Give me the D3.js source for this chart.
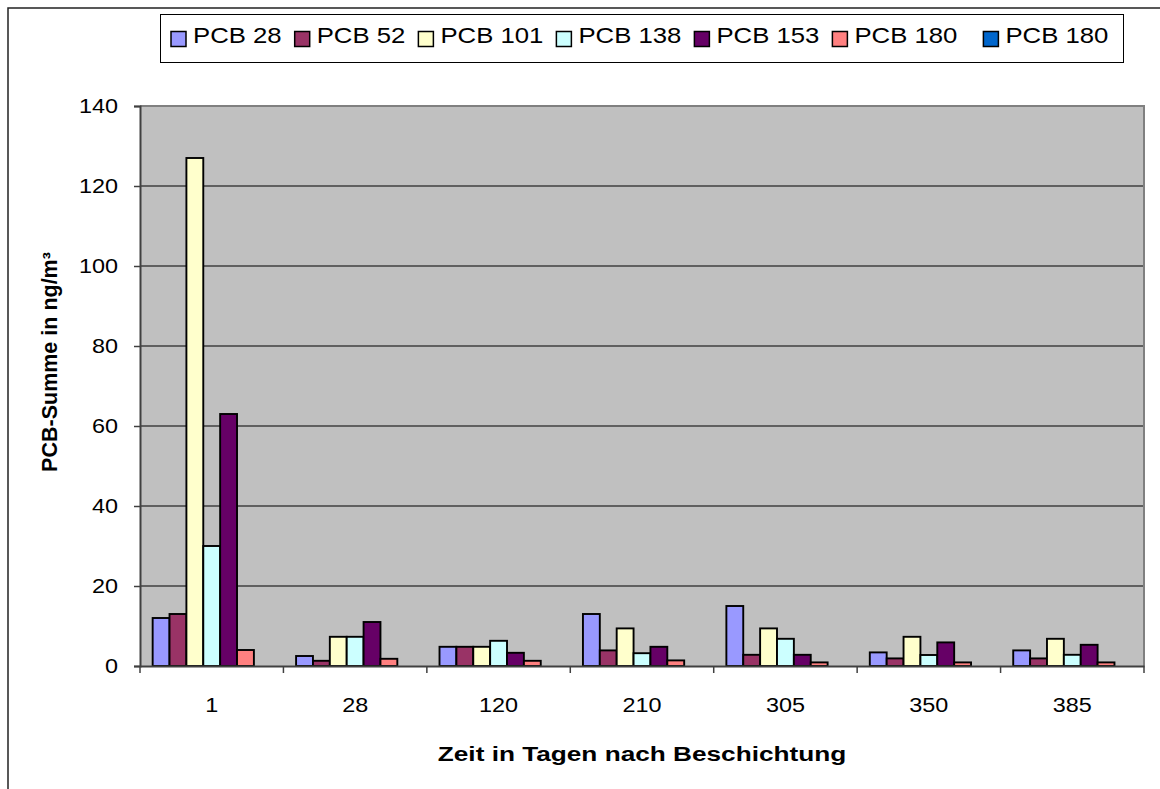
<!DOCTYPE html>
<html>
<head>
<meta charset="utf-8">
<script src="https://cdn.jsdelivr.net/npm/d3@7"></script>
<style>
  html, body { margin: 0; padding: 0; background: #fff; }
  svg { display: block; font-family: "Liberation Sans", Arial, sans-serif; }
</style>
</head>
<body>
<svg id="chart" width="1160" height="789"></svg>
<script>
// Days after coating (x categories)
const categories = ["1", "28", "120", "210", "305", "350", "385"];

// Congener names shown in the legend
const seriesNames = ["PCB 28", "PCB 52", "PCB 101", "PCB 138", "PCB 153", "PCB 180", "PCB 180"];

// Measured concentrations in ng/m³, one array per congener
const pcb28  = [12, 2.5, 4.8, 13, 15, 3.4, 3.9];
const pcb52  = [13, 1.3, 4.8, 3.9, 2.8, 1.9, 1.9];
const pcb101 = [127, 7.3, 4.8, 9.4, 9.4, 7.3, 6.8];
const pcb138 = [30, 7.3, 6.3, 3.2, 6.8, 2.75, 2.8];
const pcb153 = [63, 11, 3.3, 4.8, 2.8, 5.9, 5.3];
const pcb180 = [4, 1.8, 1.3, 1.4, 0.9, 0.9, 0.9];
const pcb180b = [null, null, null, null, null, null, null];

const seriesValues = [pcb28, pcb52, pcb101, pcb138, pcb153, pcb180, pcb180b];
const seriesColors = ["#9999FF", "#993366", "#FFFFCC", "#CCFFFF", "#660066", "#FF8080", "#0066CC"];

// Y axis ticks
const yTicks = [0, 20, 40, 60, 80, 100, 120, 140];

const svg = d3.select("#chart");
const SX = 1.2; // horizontal glyph stretch used for the axis text

const plot = { left: 140, right: 1144, top: 106, bottom: 666 };

// Text drawn with a horizontal stretch around its anchor point
function stretchedText(parent, x, y, str, o) {
  const g = parent.append("g")
    .attr("transform", `translate(${x},${y}) scale(${o.sx || SX},1)`);
  return g.append("text")
    .attr("x", 0).attr("y", 0)
    .attr("text-anchor", o.anchor || "start")
    .attr("font-size", o.size)
    .attr("font-weight", o.weight || "normal")
    .attr("fill", "#000")
    .text(str);
}

// Outer chart frame
svg.append("rect")
  .attr("x", 8).attr("y", 8).attr("width", 1200).attr("height", 900)
  .attr("fill", "#fff").attr("stroke", "#222").attr("stroke-width", 1.5);

// Scales
const x0 = d3.scaleBand().domain(categories).range([plot.left, plot.right]).paddingInner(0).paddingOuter(0);
const x1 = d3.scaleBand().domain(d3.range(seriesNames.length)).range([0, x0.bandwidth()])
  .paddingInner(0).paddingOuter(0.75);
const y = d3.scaleLinear().domain([0, 140]).range([plot.bottom, plot.top]);

// Plot background
svg.append("rect")
  .attr("x", plot.left).attr("y", plot.top)
  .attr("width", plot.right - plot.left).attr("height", plot.bottom - plot.top)
  .attr("fill", "#C0C0C0");

// Horizontal gridlines
svg.append("g").selectAll("line")
  .data(yTicks.filter(t => t > 0 && t < 140))
  .join("line")
  .attr("x1", plot.left).attr("x2", plot.right)
  .attr("y1", d => y(d)).attr("y2", d => y(d))
  .attr("stroke", "#000").attr("stroke-width", 1);

// Plot border (top and right)
svg.append("path")
  .attr("d", `M${plot.left},${plot.top}H${plot.right}V${plot.bottom}`)
  .attr("fill", "none").attr("stroke", "#808080").attr("stroke-width", 2);

// Bars
const groups = svg.append("g").selectAll("g")
  .data(categories)
  .join("g")
  .attr("transform", d => `translate(${x0(d)},0)`);

groups.selectAll("rect")
  .data((d, ci) => seriesValues.map((vals, si) => ({ si, v: vals[ci] })).filter(e => e.v != null))
  .join("rect")
  .attr("x", d => x1(d.si))
  .attr("width", x1.bandwidth())
  .attr("y", d => y(d.v))
  .attr("height", d => y(0) - y(d.v))
  .attr("fill", d => seriesColors[d.si])
  .attr("stroke", "#000")
  .attr("stroke-width", 1.9);

// Y axis
const yAxis = svg.append("g")
  .attr("transform", `translate(${plot.left},0)`)
  .call(d3.axisLeft(y).tickValues(yTicks).tickSize(6).tickFormat(""));
yAxis.select(".domain").attr("stroke", "#404040").attr("stroke-width", 2);
yAxis.selectAll(".tick line").attr("stroke", "#404040").attr("stroke-width", 1.5);

yTicks.forEach(t => {
  stretchedText(svg, 118, y(t) + 6.8, String(t), { size: 19.5, anchor: "end" });
});

// X axis
const xAxis = svg.append("g")
  .attr("transform", `translate(0,${plot.bottom})`)
  .call(d3.axisBottom(x0).tickSize(0).tickFormat(""));
xAxis.select(".domain").attr("stroke", "#404040").attr("stroke-width", 2);

// Category boundary ticks
const bounds = categories.map(c => x0(c)).concat([x0(categories[categories.length - 1]) + x0.bandwidth()]);
svg.append("g").selectAll("line")
  .data(bounds)
  .join("line")
  .attr("x1", d => d).attr("x2", d => d)
  .attr("y1", plot.bottom).attr("y2", plot.bottom + 7)
  .attr("stroke", "#404040").attr("stroke-width", 1.5);

categories.forEach(c => {
  stretchedText(svg, x0(c) + x0.bandwidth() / 2, 712, c, { size: 19.5, anchor: "middle" });
});

// Axis titles
stretchedText(svg, (plot.left + plot.right) / 2, 761, "Zeit in Tagen nach Beschichtung",
  { size: 20, anchor: "middle", weight: "bold", sx: 1.31 });

svg.append("text")
  .attr("transform", `translate(57,362) rotate(-90)`)
  .attr("text-anchor", "middle")
  .attr("font-size", 21.5)
  .attr("font-weight", "bold")
  .text("PCB-Summe in ng/m³");

// Legend
const legend = svg.append("g");
legend.append("rect")
  .attr("x", 160.5).attr("y", 14.5).attr("width", 963).attr("height", 48)
  .attr("fill", "#fff").attr("stroke", "#000").attr("stroke-width", 1);

let cursor = 171;
seriesNames.forEach((name, i) => {
  legend.append("rect")
    .attr("x", cursor).attr("y", 31.5).attr("width", 15).attr("height", 15)
    .attr("fill", seriesColors[i]).attr("stroke", "#000").attr("stroke-width", 1.5);
  const t = stretchedText(legend, cursor + 22, 43, name, { size: 22, sx: 1.17 });
  const w = t.node().getComputedTextLength() * 1.17;
  cursor = cursor + 22 + w + (i === seriesNames.length - 2 ? 26 : 13);
});
</script>
</body>
</html>
